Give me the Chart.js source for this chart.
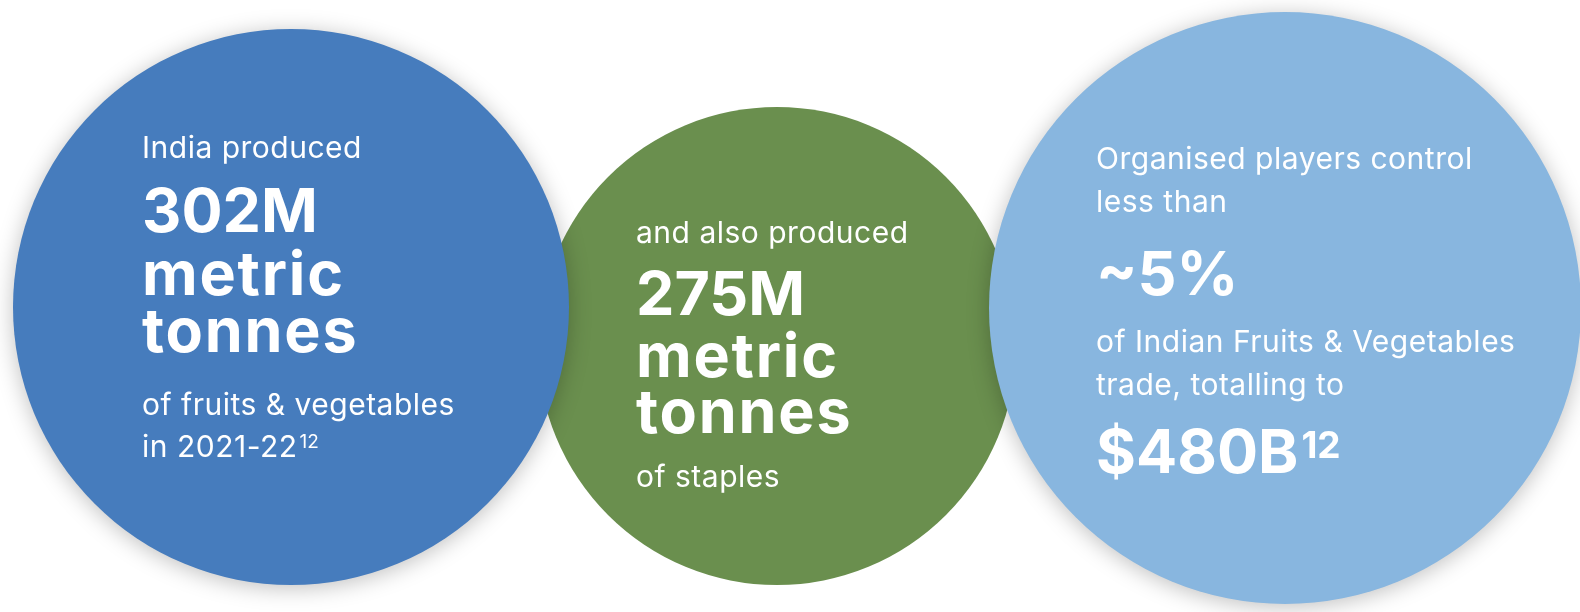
<!DOCTYPE html>
<html lang="en">
<head>
    <meta charset="UTF-8">
    <script src="https://cdn.jsdelivr.net/npm/chart.js"></script>
    <title>India F&V production</title>
    <style>
      html, body { margin: 0; padding: 0; background: #ffffff; }
      #wrap { width: 1580px; height: 612px; }
    </style>
</head>
<body>
    <div id="wrap">
        <canvas id="bubbleChart" width="1580" height="612"></canvas>
    </div>

<script>
  // dados de cada circulo
  const categories = ["Fruits & vegetables", "Staples", "Organised F&V trade"];
  const circleX = [291, 777, 1285];
  const circleY = [307, 346, 308];
  const circleR = [278, 239, 296];
  const circleColors = ["#467cbd", "#6a8f4e", "#88b6df"];

  // textos
  const leadText = [["India produced"], ["and also produced"], ["Organised players control", "less than"]];
  const figureText = [["302M", "metric", "tonnes"], ["275M", "metric", "tonnes"], ["~5%"]];
  const tailText = [["of fruits & vegetables", "in 2021-22"], ["of staples"], ["of Indian Fruits & Vegetables", "trade, totalling to"]];
  const totalValue = ["", "", "$480B"];
  const noteRef = "12";

  // posicoes do texto (x da margem esquerda e linhas de base)
  const textLeft = [142, 636, 1096];
  const leadBase = [[158], [243], [169, 212]];
  const figureBase = [[232, 295, 352], [315, 377, 433], [295]];
  const tailBase = [[415, 457], [487], [352, 395]];
  const totalBase = [0, 0, 473];

  const FONT = "Inter, 'Noto Sans', sans-serif";

  // ordem de desenho: verde embaixo, azul e azul claro por cima com sombra
  const drawOrder = [1, 2, 0]; // menor = desenhado por ultimo
  const hasShadow = [true, false, true];

  let datasets = [];
  for (let i = 0; i < categories.length; i++) {
    datasets.push({
      label: categories[i],
      data: [{ x: circleX[i], y: circleY[i], r: circleR[i] }],
      backgroundColor: circleColors[i],
      borderWidth: 0,
      hoverBorderWidth: 0,
      hoverRadius: 0,
      order: drawOrder[i],
      clip: false
    });
  }

  const shadowPlugin = {
    id: "shadowPlugin",
    beforeDatasetDraw(chart, args) {
      const ctx = chart.ctx;
      ctx.save();
      if (hasShadow[args.index]) {
        ctx.shadowColor = "rgba(0, 0, 0, 0.25)";
        ctx.shadowBlur = 22;
        ctx.shadowOffsetX = 0;
        ctx.shadowOffsetY = 3;
      }
    },
    afterDatasetDraw(chart) {
      chart.ctx.restore();
    }
  };

  const textPlugin = {
    id: "textPlugin",
    afterDatasetsDraw(chart) {
      const ctx = chart.ctx;
      ctx.save();
      ctx.fillStyle = "#ffffff";
      ctx.textBaseline = "alphabetic";
      ctx.textAlign = "left";
      for (let i = 0; i < categories.length; i++) {
        const x = textLeft[i];
        ctx.font = "400 30px " + FONT;
        ctx.letterSpacing = "0.5px";
        leadText[i].forEach((t, k) => ctx.fillText(t, x, leadBase[i][k]));

        ctx.font = "700 61px " + FONT;
        figureText[i].forEach((t, k) => {
          // numeros sem espaco extra, palavras um pouco mais largas
          ctx.letterSpacing = k === 0 ? "0px" : "1.8px";
          ctx.fillText(t, x, figureBase[i][k]);
        });

        tailText[i].forEach((t, k) => {
          ctx.font = "400 30px " + FONT;
          ctx.letterSpacing = "0.5px";
          ctx.fillText(t, x, tailBase[i][k]);
          // nota de rodape na ultima linha do primeiro circulo
          if (i === 0 && k === tailText[i].length - 1) {
            const w = ctx.measureText(t).width;
            ctx.font = "400 19px " + FONT;
            ctx.letterSpacing = "0px";
            ctx.fillText(noteRef, x + w + 2, tailBase[i][k] - 9);
          }
        });

        if (totalValue[i]) {
          ctx.letterSpacing = "0px";
          ctx.font = "700 61px " + FONT;
          ctx.fillText(totalValue[i], x, totalBase[i]);
          const w = ctx.measureText(totalValue[i]).width;
          ctx.font = "700 37px " + FONT;
          ctx.fillText(noteRef, x + w + 3, totalBase[i] - 15);
        }
      }
      ctx.restore();
    }
  };

  const config = {
    type: "bubble",
    data: { datasets: datasets },
    options: {
      responsive: false,
      animation: false,
      events: [],
      layout: { padding: 0, autoPadding: false },
      plugins: {
        legend: { display: false },
        tooltip: { enabled: false }
      },
      scales: {
        x: { type: "linear", min: 0, max: 1580, display: false },
        y: { type: "linear", min: 0, max: 612, reverse: true, display: false }
      }
    },
    plugins: [shadowPlugin, textPlugin]
  };

  let myBubbleChart = new Chart(document.getElementById("bubbleChart"), config);
</script>
</body>
</html>
